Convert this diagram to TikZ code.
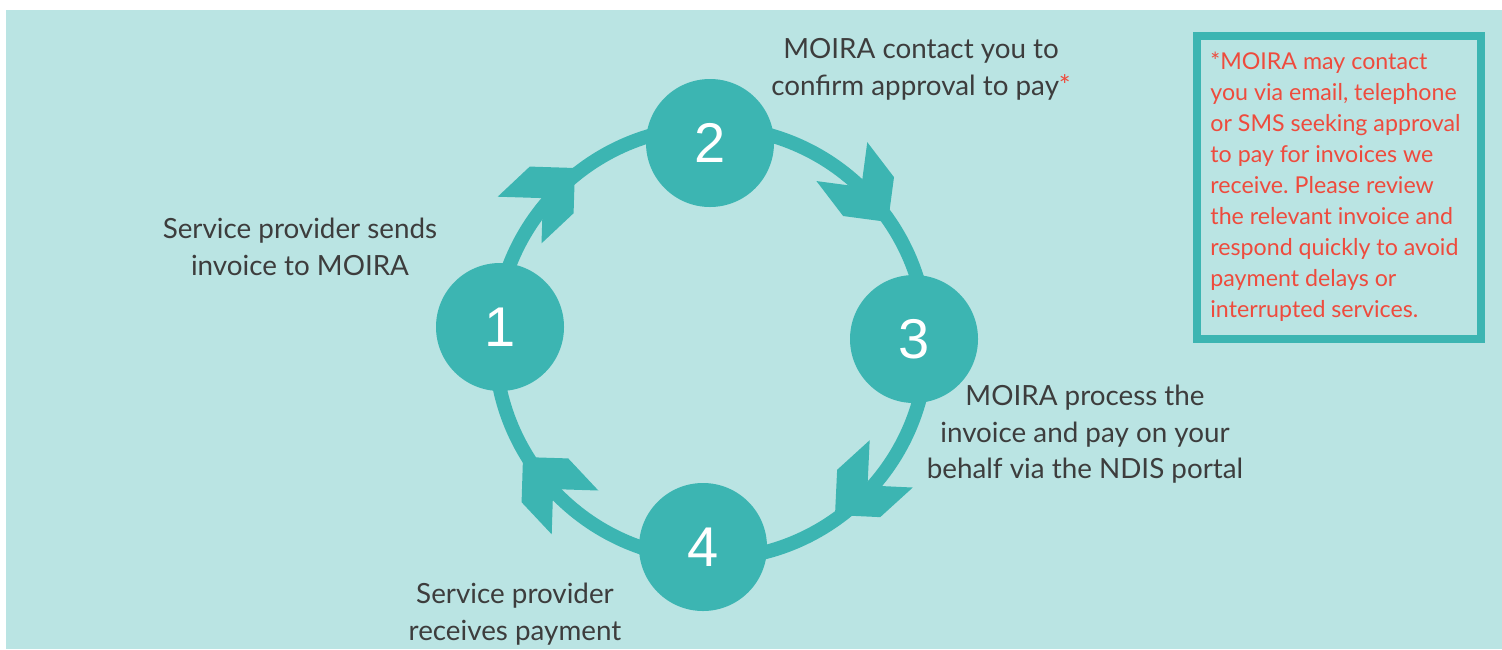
\documentclass[tikz,border=0pt]{standalone}
\usepackage{fontspec}
\setmainfont{Lato}
\newfontfamily\numfont{Liberation Sans}
\definecolor{bgc}{HTML}{BAE4E3}
\definecolor{tealc}{HTML}{3CB5B2}
\definecolor{txtc}{HTML}{3D3D3D}
\definecolor{redc}{HTML}{EE4B3D}
\frenchspacing
\begin{document}
\begin{tikzpicture}[x=0.5pt,y=-0.5pt,
  numc/.style={circle,fill=tealc,minimum size=64pt,inner sep=0pt,text=white,font=\numfont\fontsize{28}{28}\selectfont},
  lbl/.style={anchor=base,inner sep=0pt,text=txtc,font=\fontsize{13.9}{18.5}\selectfont},
  note/.style={anchor=base west,inner sep=0pt,text=redc,font=\fontsize{11.6}{15.5}\selectfont},
  ring/.style={draw=tealc,line width=7pt},
  chevron/.pic={\fill[tealc] (0,0) -- (-32,32) -- (-76,32) -- (-44,0) -- (-76,-32) -- (-32,-32) -- cycle;}]
\useasboundingbox (0,0) rectangle (1502,649);
\fill[bgc] (6,10) rectangle (1502,649);
% ring
\coordinate (c) at (711,343);
\draw[ring] (c) circle[radius=216];
% arrowheads
\pic[rotate=43.2] at (575,168) {chevron};
\pic[rotate=-52.6] at (888,222) {chevron};
\pic[rotate=-137.7] at (835,515) {chevron};
\pic[rotate=133.2] at (523,457) {chevron};
% step circles
\node[numc] (n1) at (500,327) {1};
\node[numc] (n2) at (710,143) {2};
\node[numc] (n3) at (914,339) {3};
\node[numc] (n4) at (703,547) {4};
% labels
\node[lbl] (l2a) at (921,58) {MOIRA contact you to};
\node[lbl] (l2b) at (921,95) {confirm approval to pay{\color{redc}*}};
\node[lbl] (l1a) at (300,238) {Service provider sends};
\node[lbl] (l1b) at (300,275) {invoice to MOIRA};
\node[lbl] (l3a) at (1085,405) {MOIRA process the};
\node[lbl] (l3b) at (1085,442) {invoice and pay on your};
\node[lbl] (l3c) at (1085,478) {behalf via the NDIS portal};
\node[lbl] (l4a) at (515,603) {Service provider};
\node[lbl] (l4b) at (515,640) {receives payment};
% note box
\draw[draw=tealc,line width=4pt] (1197,36) rectangle (1481,339);
\node[note] (m1) at (1210,69) {*MOIRA may contact};
\node[note] (m2) at (1210,100) {you via email, telephone};
\node[note] (m3) at (1210,131) {or SMS seeking approval};
\node[note] (m4) at (1210,162) {to pay for invoices we};
\node[note] (m5) at (1210,193) {receive. Please review};
\node[note] (m6) at (1210,224) {the relevant invoice and};
\node[note] (m7) at (1210,255) {respond quickly to avoid};
\node[note] (m8) at (1210,286) {payment delays or};
\node[note] (m9) at (1210,317) {interrupted services.};
\end{tikzpicture}
\end{document}
